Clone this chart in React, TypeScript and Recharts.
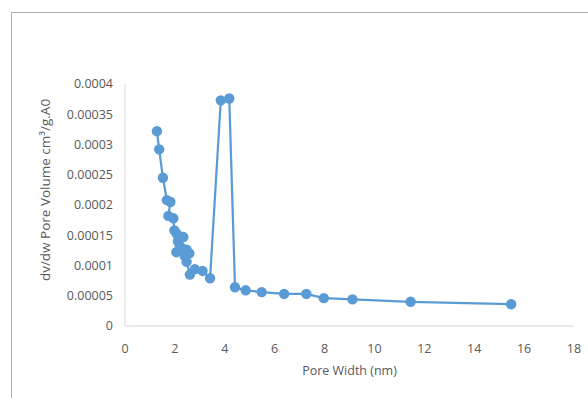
import React from 'react';
import { ScatterChart, Scatter, XAxis, YAxis } from 'recharts';

const poreWidth = [
  1.28, 1.37, 1.52, 1.68, 1.82, 1.74, 1.94, 1.98, 2.08, 2.34, 2.12, 2.2, 2.06, 2.3, 2.47, 2.58, 2.4, 2.47,
  2.6, 2.8, 3.11, 3.41, 3.84, 4.18, 4.41, 4.84, 5.48, 6.38, 7.27, 7.97, 9.12, 11.45, 15.48,
];
const poreVolume = [
  0.000322, 0.000292, 0.000245, 0.000208, 0.000205, 0.000182, 0.000178, 0.000158, 0.000152, 0.000147,
  0.00014, 0.000132, 0.000122, 0.000128, 0.000126, 0.00012, 0.000115, 0.000106, 0.000085, 0.000094,
  0.000091, 0.000079, 0.000373, 0.000376, 0.000064, 0.000059, 0.000056, 0.000053, 0.000053, 0.000046,
  0.000044, 0.00004, 0.000036,
];
const xTicks = [0, 2, 4, 6, 8, 10, 12, 14, 16, 18];
const yTickLabels = ['0', '0.00005', '0.0001', '0.00015', '0.0002', '0.00025', '0.0003', '0.00035', '0.0004'];
const xTitle = 'Pore Width (nm)';
const yTitle = 'dv/dw Pore Volume cm³/g.A0';

const data = poreWidth.map((x, i) => ({ x, y: poreVolume[i] }));
const yTicks = yTickLabels.map((s) => parseFloat(s));

const BLUE = '#5B9BD5';
const FONT = '"Open Sans", sans-serif';
const TEXT = '#595959';

const Dot = (props: any) => <circle cx={props.cx} cy={props.cy} r={5.2} fill={BLUE} />;

const YTitle = (props: any) => {
  const vb = props.viewBox || {};
  const x = vb.x + 10;
  const y = vb.y + vb.height / 2 - 15;
  return (
    <text
      x={x}
      y={y}
      transform={`rotate(-90, ${x}, ${y})`}
      textAnchor="middle"
      dominantBaseline="central"
      fontFamily={FONT}
      fontSize={13.5}
      fill={TEXT}
    >
      {yTitle}
    </text>
  );
};

const XTitle = (props: any) => {
  const vb = props.viewBox || {};
  const x = vb.x + vb.width / 2;
  const y = vb.y + 44;
  return (
    <text x={x} y={y} textAnchor="middle" dominantBaseline="central" fontFamily={FONT} fontSize={12.5} fill={TEXT}>
      {xTitle}
    </text>
  );
};

export default function App() {
  return (
    <div style={{ position: 'absolute', left: 0, top: 0, width: 588, height: 398, overflow: 'hidden', background: '#fff' }}>
      <div
        style={{
          position: 'absolute',
          left: 11,
          top: 12,
          width: 600,
          height: 420,
          borderTop: '1px solid #b0b0b0',
          borderLeft: '1px solid #b0b0b0',
        }}
      />
      <div style={{ position: 'absolute', left: 0, top: 0 }}>
        <ScatterChart width={588} height={398} margin={{ top: 84, right: 14, bottom: 42, left: 35 }}>
          <XAxis
            type="number"
            dataKey="x"
            domain={[0, 18]}
            ticks={xTicks}
            interval={0}
            allowDataOverflow
            tickLine={false}
            tickSize={0}
            tickMargin={18}
            height={30}
            axisLine={{ stroke: '#d9d9d9', strokeWidth: 1 }}
            tick={{ fill: TEXT, fontSize: 12.5, fontFamily: FONT }}
            label={{ content: XTitle }}
          />
          <YAxis
            type="number"
            dataKey="y"
            domain={[0, 0.0004]}
            ticks={yTicks}
            interval={0}
            allowDataOverflow
            width={90}
            tickLine={false}
            tickSize={0}
            tickMargin={12}
            axisLine={{ stroke: '#d9d9d9', strokeWidth: 1 }}
            tick={{ fill: TEXT, fontSize: 12.5, fontFamily: FONT }}
            tickFormatter={(v: number) => yTickLabels[yTicks.indexOf(v)] ?? String(v)}
            label={{ content: YTitle }}
          />
          <Scatter
            data={data}
            fill={BLUE}
            line={{ stroke: BLUE, strokeWidth: 2.25 }}
            lineType="joint"
            shape={Dot}
            isAnimationActive={false}
          />
        </ScatterChart>
      </div>
    </div>
  );
}
